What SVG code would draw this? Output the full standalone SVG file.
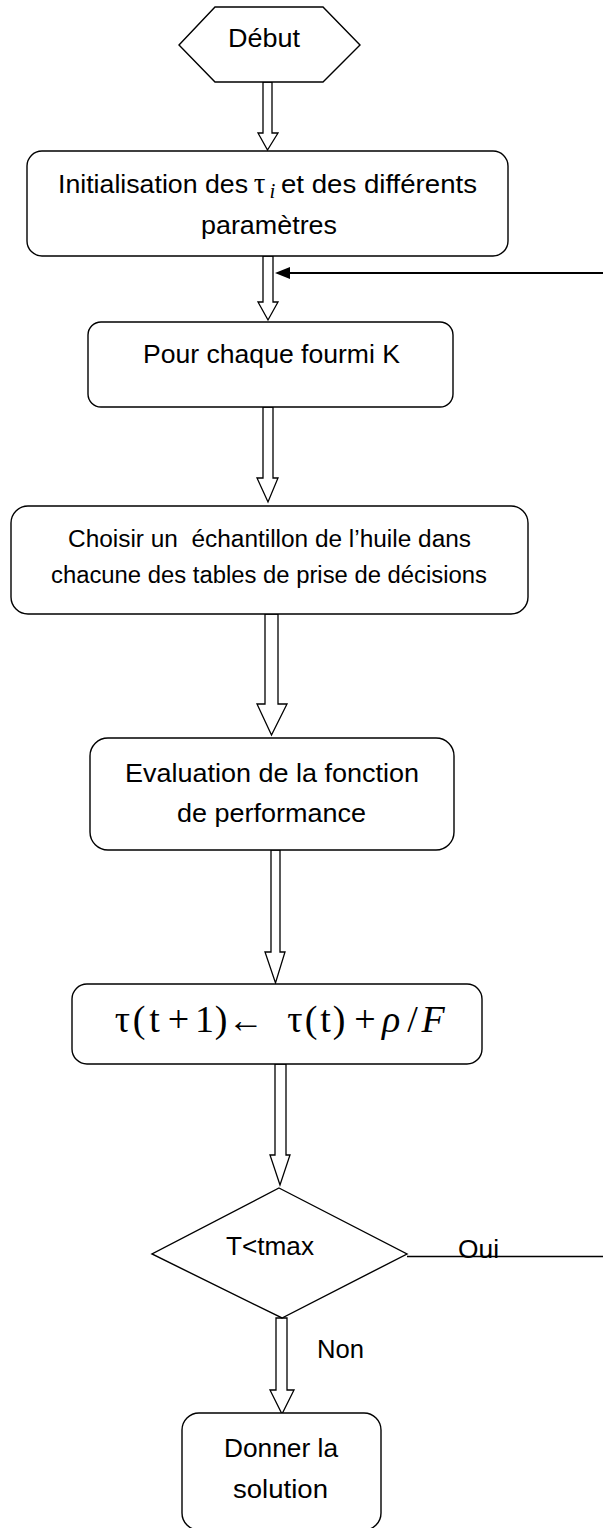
<svg xmlns="http://www.w3.org/2000/svg" width="603" height="1528" viewBox="0 0 603 1528">
<defs>
<style>
.box{fill:#fff;stroke:#000;stroke-width:1.4}
.arr{fill:#fff;stroke:#000;stroke-width:1.3;stroke-linejoin:miter}
.ln{fill:none;stroke:#000}
.t{font-family:"Liberation Sans",Arial,sans-serif;font-size:26px;fill:#000}
.s{font-size:23px}
.m{font-family:"Liberation Serif","Times New Roman",serif;font-size:38px;fill:#000}
</style>
</defs>
<rect width="603" height="1528" fill="#fff"/>

<g id="connectors">
<polygon class="arr" points="263,82 272,82 272,133 278,133 267.5,150 258,133 263,133"/>
<polygon class="arr" points="263,256 273,256 273,302 278,302 268,320 258,302 263,302"/>
<polygon class="arr" points="263,407 273,407 273,478 278,478 268,502 257,478 263,478"/>
<polygon class="arr" points="265,614 278,614 278,704 287,704 271.5,735 257,704 265,704"/>
<polygon class="arr" points="271,850 280,850 280,952 285,952 275.5,983 265,952 271,952"/>
<polygon class="arr" points="275,1064 286,1064 286,1155 290,1155 280,1185 270,1155 275,1155"/>
<polygon class="arr" points="276,1318 287,1318 287,1390 294,1390 282,1414 270,1390 276,1390"/>
<line class="ln" x1="603" y1="273" x2="290" y2="273" stroke-width="2"/>
<polygon points="275,273 290,267 290,279" fill="#000"/>
<line class="ln" x1="407" y1="1256.5" x2="603" y2="1256.5" stroke-width="1.3"/>
<text class="t" x="458" y="1258" textLength="41" lengthAdjust="spacingAndGlyphs">Oui</text>
<text class="t" x="317" y="1358" textLength="47" lengthAdjust="spacingAndGlyphs">Non</text>
</g>

<g id="debut">
<polygon class="box" points="179,45 215,7 323,7 360,45 323,82 215,82"/>
<text class="t" x="228" y="47" textLength="72" lengthAdjust="spacingAndGlyphs">Début</text>
</g>

<g id="init">
<rect class="box" x="27" y="151" width="481" height="105" rx="15" ry="15"/>
<text class="t" x="58" y="193" textLength="190" lengthAdjust="spacingAndGlyphs">Initialisation des</text>
<text class="m" x="259.5" y="193" text-anchor="middle" style="font-size:29px">τ</text>
<text class="m" x="272.5" y="198" text-anchor="middle" style="font-size:21px;font-style:italic">i</text>
<text class="t" x="281" y="193" textLength="196" lengthAdjust="spacingAndGlyphs">et des différents</text>
<text class="t" x="201" y="234" textLength="136" lengthAdjust="spacingAndGlyphs">paramètres</text>
</g>

<g id="pour">
<rect class="box" x="88" y="322" width="365" height="85" rx="13" ry="13"/>
<text class="t" x="143" y="363" textLength="257" lengthAdjust="spacingAndGlyphs">Pour chaque fourmi K</text>
</g>

<g id="choisir">
<rect class="box" x="11" y="506" width="517" height="108" rx="17" ry="17"/>
<text class="t s" x="68" y="547" textLength="403" lengthAdjust="spacingAndGlyphs" xml:space="preserve">Choisir un  échantillon de l’huile dans</text>
<text class="t s" x="51" y="583" textLength="436" lengthAdjust="spacingAndGlyphs">chacune des tables de prise de décisions</text>
</g>

<g id="evaluation">
<rect class="box" x="90" y="738" width="364" height="112" rx="18" ry="18"/>
<text class="t" x="125" y="782" textLength="294" lengthAdjust="spacingAndGlyphs">Evaluation de la fonction</text>
<text class="t" x="177" y="822" textLength="189" lengthAdjust="spacingAndGlyphs">de performance</text>
</g>

<g id="update">
<rect class="box" x="72" y="984" width="410" height="80" rx="15" ry="15"/>
<text class="m" y="1032" text-anchor="middle"><tspan x="122.5">τ</tspan><tspan x="139">(</tspan><tspan x="154.5">t</tspan><tspan x="178.5">+</tspan><tspan x="204.5">1</tspan><tspan x="221">)</tspan><tspan x="246" style="font-size:36px">←</tspan><tspan x="295">τ</tspan><tspan x="311">(</tspan><tspan x="325.5">t</tspan><tspan x="339">)</tspan><tspan x="365">+</tspan><tspan x="391" style="font-style:italic">ρ</tspan><tspan x="412.5">/</tspan><tspan x="433" style="font-style:italic">F</tspan></text>
</g>

<g id="test">
<polygon class="box" points="279,1188 407,1254 282,1318 152,1254"/>
<text class="t" x="226" y="1255" textLength="88" lengthAdjust="spacingAndGlyphs">T&lt;tmax</text>
</g>

<g id="solution">
<rect class="box" x="182" y="1413" width="199" height="117" rx="17" ry="17"/>
<text class="t" x="224" y="1457" textLength="114" lengthAdjust="spacingAndGlyphs">Donner la</text>
<text class="t" x="233" y="1498" textLength="95" lengthAdjust="spacingAndGlyphs">solution</text>
</g>
</svg>
